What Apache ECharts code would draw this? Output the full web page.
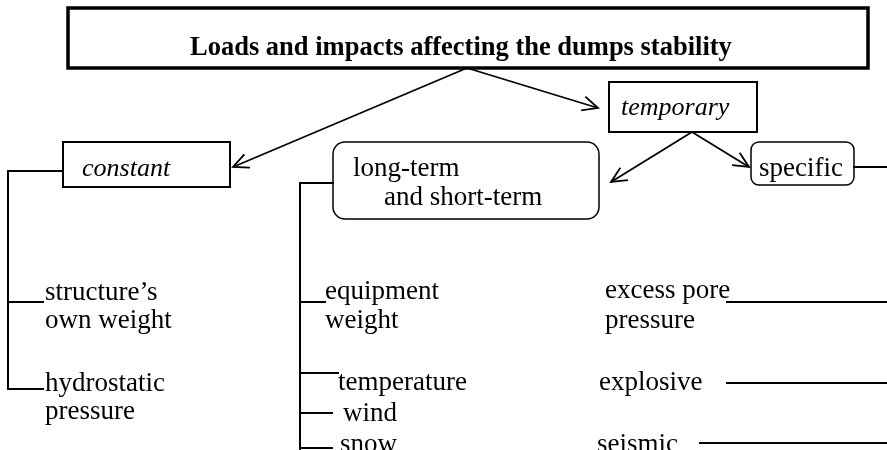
<!DOCTYPE html>
<html><head><meta charset="utf-8">
<script src="https://cdn.jsdelivr.net/npm/echarts@6/dist/echarts.min.js"></script>
<style>html,body{margin:0;padding:0;background:#fff}#c{width:887px;height:450px}</style>
</head><body><div id="c"></div>
<script>
// ---- diagram data (in a 887 x 450 diagram coordinate space) ----
const boxNames   = ['title', 'constant', 'temporary', 'long-term and short-term', 'specific'];
const boxX0      = [68, 63, 609, 333, 751];
const boxY0      = [8, 142, 82, 142, 142];
const boxX1      = [868, 230, 757, 599, 854];
const boxY1      = [68, 187, 132, 219, 185];

const textLabels = ['Loads and impacts affecting the dumps stability',
  'constant', 'temporary', 'long-term', 'and short-term', 'specific',
  'structure\u2019s', 'own weight', 'hydrostatic', 'pressure',
  'equipment', 'weight', 'temperature', 'wind', 'snow',
  'excess pore', 'pressure', 'explosive', 'seismic'];
const textX      = [190, 82, 621, 353, 384, 759, 45, 45, 45, 45, 325, 325, 338, 343, 340, 605, 605, 599, 597];
const textY      = [52, 173, 112, 173, 202, 173, 297, 325, 388, 416, 296, 325, 387, 418, 449, 295, 325, 387, 449];
const textKind   = ['bold', 'italic', 'italic', 'normal', 'normal', 'normal', 'normal', 'normal', 'normal', 'normal',
  'normal', 'normal', 'normal', 'normal', 'normal', 'normal', 'normal', 'normal', 'normal'];

const segFromX = [63, 8, 8, 8, 333, 300, 300, 300, 300, 300, 854, 727, 727, 700];
const segFromY = [171, 171, 302, 389, 183, 183, 302, 373, 413, 448, 167, 302, 383, 443];
const segToX   = [8, 8, 43, 43, 300, 300, 325, 338, 332, 332, 887, 887, 887, 887];
const segToY   = [171, 389, 302, 389, 183, 449, 302, 373, 413, 448, 167, 302, 383, 443];

const arrowFromX = [467, 467, 692, 692];
const arrowFromY = [68, 68, 132, 132];
const arrowToX   = [233, 598, 611, 749];
const arrowToY   = [167, 108, 182, 167];

// ---- styles ----
const boxLineWidth = [3.5, 2, 2, 1.5, 1.5];
const boxRadius    = [0, 0, 0, 12, 8];
const FONT_FAMILY = '"Liberation Serif", "Times New Roman", serif';
const FONT_SIZE = {bold: 26.5, italic: 26, normal: 27};
const BASELINE_SHIFT = 4;

const chart = echarts.init(document.getElementById('c'), null, {renderer: 'canvas'});

chart.setOption({
  animation: false,
  backgroundColor: '#fff',
  grid: {left: 0, right: 0, top: 0, bottom: 0},
  xAxis: {type: 'value', min: 0, max: 887, show: false},
  yAxis: {type: 'value', min: 0, max: 450, inverse: true, show: false},
  series: [
    {
      type: 'custom', name: 'boxes', coordinateSystem: 'cartesian2d',
      data: boxNames.map((n, i) => [boxX0[i], boxY0[i], boxX1[i], boxY1[i]]),
      renderItem: (params, api) => {
        const i = params.dataIndex;
        const a = api.coord([api.value(0), api.value(1)]);
        const b = api.coord([api.value(2), api.value(3)]);
        return {
          type: 'rect',
          shape: {x: a[0], y: a[1], width: b[0] - a[0], height: b[1] - a[1], r: boxRadius[i]},
          style: {fill: '#fff', stroke: '#000', lineWidth: boxLineWidth[i]}
        };
      }
    },
    {
      type: 'custom', name: 'connectors', coordinateSystem: 'cartesian2d',
      data: segFromX.map((x, i) => [x, segFromY[i], segToX[i], segToY[i]]),
      renderItem: (params, api) => {
        const a = api.coord([api.value(0), api.value(1)]);
        const b = api.coord([api.value(2), api.value(3)]);
        return {
          type: 'line',
          shape: {x1: a[0], y1: a[1], x2: b[0], y2: b[1]},
          style: {stroke: '#000', lineWidth: 2, lineCap: 'square'}
        };
      }
    },
    {
      type: 'custom', name: 'arrows', coordinateSystem: 'cartesian2d',
      data: arrowFromX.map((x, i) => [x, arrowFromY[i], arrowToX[i], arrowToY[i]]),
      renderItem: (params, api) => {
        const a = api.coord([api.value(0), api.value(1)]);
        const b = api.coord([api.value(2), api.value(3)]);
        const ang = Math.atan2(a[1] - b[1], a[0] - b[0]);
        const L = 17, h = 25 * Math.PI / 180;
        const p1 = [b[0] + L * Math.cos(ang + h), b[1] + L * Math.sin(ang + h)];
        const p2 = [b[0] + L * Math.cos(ang - h), b[1] + L * Math.sin(ang - h)];
        return {
          type: 'group',
          children: [
            {type: 'line', shape: {x1: a[0], y1: a[1], x2: b[0], y2: b[1]},
             style: {stroke: '#000', lineWidth: 1.8}},
            {type: 'polyline', shape: {points: [p1, b, p2]},
             style: {stroke: '#000', lineWidth: 1.8, fill: null}}
          ]
        };
      }
    },
    {
      type: 'custom', name: 'texts', coordinateSystem: 'cartesian2d',
      data: textLabels.map((t, i) => [textX[i], textY[i]]),
      renderItem: (params, api) => {
        const i = params.dataIndex;
        const p = api.coord([api.value(0), api.value(1)]);
        const k = textKind[i];
        const font = (k === 'italic' ? 'italic ' : '') + (k === 'bold' ? 'bold ' : '') + FONT_SIZE[k] + 'px ' + FONT_FAMILY;
        return {
          type: 'text',
          style: {text: textLabels[i], x: p[0], y: p[1] - BASELINE_SHIFT, font: font,
                  fill: '#000', align: 'left', verticalAlign: 'middle'}
        };
      }
    }
  ]
});
</script></body></html>
